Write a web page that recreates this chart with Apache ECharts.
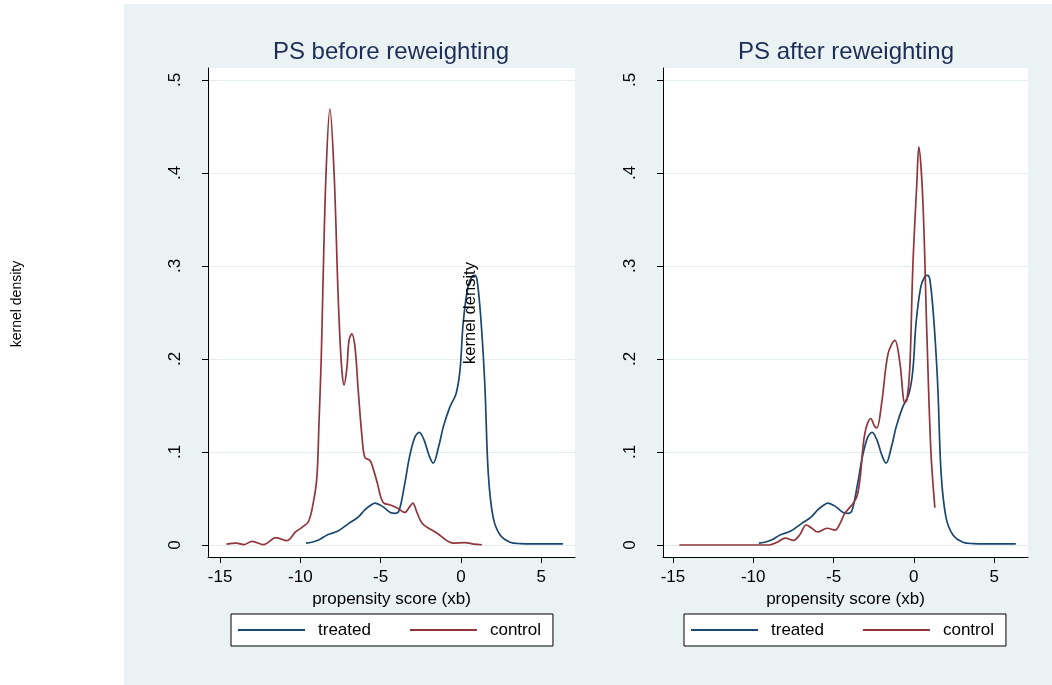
<!DOCTYPE html>
<html>
<head>
<meta charset="utf-8">
<title>PS before / after reweighting</title>
<script src="https://cdn.jsdelivr.net/npm/echarts@6/dist/echarts.min.js"></script>
<style>
  html, body { margin: 0; padding: 0; background: #fff; }
  #chart { width: 1052px; height: 685px; }
</style>
</head>
<body>
<div id="chart"></div>
<script>
// kernel density of the propensity score (xb)
// treated group is the same in both panels
var treatedX = [-9.65, -9.3, -8.9, -8.3, -7.66, -7.0, -6.4, -5.97, -5.6, -5.35, -4.85, -4.4, -4.1, -3.85, -3.5, -3.2, -2.87, -2.6, -2.3, -2.0, -1.73, -1.4, -1.1, -0.7, -0.3, -0.06, 0.14, 0.44, 0.7, 0.87, 1.0, 1.18, 1.35, 1.5, 1.7, 2.0, 2.43, 3.05, 3.7, 4.5, 5.5, 6.35];
var treatedY = [0.002, 0.003, 0.005, 0.011, 0.015, 0.023, 0.03, 0.038, 0.043, 0.045, 0.041, 0.035, 0.034, 0.037, 0.066, 0.095, 0.116, 0.121, 0.113, 0.097, 0.088, 0.105, 0.127, 0.148, 0.163, 0.188, 0.239, 0.278, 0.289, 0.29, 0.285, 0.256, 0.215, 0.167, 0.077, 0.030, 0.011, 0.003, 0.0015, 0.0012, 0.0012, 0.0012];

// control group before reweighting
var controlBeforeX = [-14.6, -14.0, -13.5, -13.0, -12.3, -11.5, -10.85, -10.3, -9.9, -9.5, -9.2, -8.97, -8.84, -8.7, -8.6, -8.4, -8.16, -7.9, -7.66, -7.53, -7.4, -7.28, -7.1, -6.97, -6.8, -6.6, -6.4, -6.16, -5.98, -5.67, -5.5, -5.2, -5.0, -4.8, -4.4, -4.0, -3.5, -3.2, -3.0, -2.74, -2.4, -1.5, -0.5, 0.25, 0.8, 1.3];
var controlBeforeY = [0.001, 0.002, 0.0005, 0.004, 0.0005, 0.008, 0.0046, 0.014, 0.019, 0.025, 0.045, 0.073, 0.131, 0.2, 0.274, 0.4, 0.469, 0.4, 0.274, 0.22, 0.185, 0.172, 0.191, 0.22, 0.227, 0.213, 0.167, 0.116, 0.094, 0.091, 0.084, 0.066, 0.052, 0.045, 0.043, 0.04, 0.035, 0.041, 0.045, 0.035, 0.023, 0.013, 0.002, 0.0025, 0.001, 0.0003];

// control group after reweighting
var controlAfterX = [-14.6, -12, -10, -9.0, -8.5, -8.0, -7.5, -7.1, -6.7, -6.35, -6.0, -5.4, -4.9, -4.6, -4.3, -3.86, -3.55, -3.36, -3.05, -2.68, -2.45, -2.3, -2.0, -1.6, -1.18, -0.87, -0.56, -0.43, -0.25, -0.06, 0.19, 0.31, 0.56, 0.81, 1.06, 1.31];
var controlAfterY = [0, 0, 0, 0, 0.003, 0.0075, 0.005, 0.011, 0.0215, 0.018, 0.014, 0.018, 0.016, 0.023, 0.034, 0.043, 0.052, 0.07, 0.12, 0.136, 0.128, 0.126, 0.153, 0.206, 0.22, 0.196, 0.153, 0.156, 0.19, 0.3, 0.39, 0.428, 0.371, 0.228, 0.102, 0.04];

var xTicks = [-15, -10, -5, 0, 5];
var yTicks = [0, 0.1, 0.2, 0.3, 0.4, 0.5];
var panelTitles = ['PS before reweighting', 'PS after reweighting'];
var groupNames = ['treated', 'control'];
var xTitle = 'propensity score (xb)';
var yTitle = 'kernel density';

var NAVY = '#1a476f', MAROON = '#90353b', BG = '#eaf2f3';
var FONT = 'Arial, "Liberation Sans", sans-serif';

function pairs(xs, ys) {
    var out = [];
    for (var i = 0; i < xs.length; i++) out.push([xs[i], ys[i]]);
    return out;
}
function yFmt(v) {
    if (Math.abs(v) < 1e-9) return '0';
    return String(Math.round(v * 10) / 10).replace(/^0/, '');
}

function xAxisFor(idx, min, max) {
    return {
        type: 'value', gridIndex: idx, min: min, max: max,
        name: xTitle, nameLocation: 'middle', nameGap: 29,
        nameTextStyle: {color: '#000', fontSize: 17, fontFamily: FONT},
        axisLine: {show: true, onZero: false, lineStyle: {color: '#000', width: 1}},
        axisTick: {show: true, length: 6, customValues: xTicks, lineStyle: {color: '#000'}},
        axisLabel: {customValues: xTicks, margin: 12, color: '#000', fontSize: 17, fontFamily: FONT},
        splitLine: {show: false}
    };
}
function yAxisFor(idx) {
    return {
        type: 'value', gridIndex: idx, min: -0.0129, max: 0.5129,
        axisLine: {show: true, onZero: false, lineStyle: {color: '#000', width: 1}},
        axisTick: {show: true, length: 6, customValues: yTicks, lineStyle: {color: '#000'}},
        axisLabel: {customValues: yTicks, rotate: 90, margin: 24, color: '#000', fontSize: 17, fontFamily: FONT, formatter: yFmt},
        splitLine: {show: true, customValues: yTicks, lineStyle: {color: '#e3ecee', width: 1.2}}
    };
}
function lineSeries(name, idx, data, color) {
    return {
        name: name, type: 'line', xAxisIndex: idx, yAxisIndex: idx,
        data: data, smooth: 0.35, showSymbol: false, symbol: 'none',
        lineStyle: {color: color, width: 1.7}, itemStyle: {color: color},
        animation: false, z: 3
    };
}
function legendFor(left) {
    return {
        left: left, top: 614, orient: 'horizontal', selectedMode: false,
        backgroundColor: '#fff', borderColor: '#000', borderWidth: 1, borderRadius: 0,
        padding: [7, 12, 7, 7], itemGap: 39,
        icon: 'rect', itemWidth: 67, itemHeight: 2,
        textStyle: {color: '#000', fontSize: 17, fontFamily: FONT, lineHeight: 18, padding: [0, 0, 0, 8]},
        data: groupNames
    };
}

var chart = echarts.init(document.getElementById('chart'));
var option = {
    backgroundColor: '#fff',
    animation: false,
    grid: [
        {left: 208, top: 68, width: 367, height: 489, show: true, backgroundColor: '#fff', borderWidth: 0, containLabel: false},
        {left: 663, top: 68, width: 365, height: 489, show: true, backgroundColor: '#fff', borderWidth: 0, containLabel: false}
    ],
    xAxis: [xAxisFor(0, -15.75, 7.1), xAxisFor(1, -15.62, 7.11)],
    yAxis: [yAxisFor(0), yAxisFor(1)],
    legend: [legendFor(231), legendFor(684)],
    graphic: [
        {type: 'rect', z: -10, silent: true, shape: {x: 124, y: 4, width: 928, height: 681}, style: {fill: BG}},
        {type: 'text', x: 391, y: 52, style: {text: panelTitles[0], fill: '#1c2d58', font: '24px ' + FONT, align: 'center', verticalAlign: 'middle'}},
        {type: 'text', x: 846, y: 52, style: {text: panelTitles[1], fill: '#1c2d58', font: '24px ' + FONT, align: 'center', verticalAlign: 'middle'}},
        {type: 'text', x: 17, y: 304, rotation: Math.PI / 2, style: {text: yTitle, fill: '#000', font: '14px ' + FONT, align: 'center', verticalAlign: 'middle'}},
        {type: 'text', x: 470, y: 313, rotation: Math.PI / 2, z: 10, style: {text: yTitle, fill: '#000', font: '16.5px ' + FONT, align: 'center', verticalAlign: 'middle'}}
    ],
    series: [
        lineSeries(groupNames[0], 0, pairs(treatedX, treatedY), NAVY),
        lineSeries(groupNames[1], 0, pairs(controlBeforeX, controlBeforeY), MAROON),
        lineSeries(groupNames[0], 1, pairs(treatedX, treatedY), NAVY),
        lineSeries(groupNames[1], 1, pairs(controlAfterX, controlAfterY), MAROON)
    ]
};
chart.setOption(option);
</script>
</body>
</html>
